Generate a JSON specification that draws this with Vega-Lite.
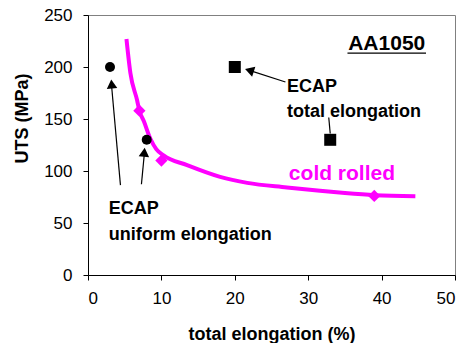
{
  "$schema": "https://vega.github.io/schema/vega-lite/v6.json",
  "autosize": "none",
  "width": 367,
  "height": 260,
  "padding": {"left": 88, "top": 15, "right": 8, "bottom": 68},
  "background": "white",
  "config": {
    "font": "Liberation Sans",
    "view": {"stroke": "#808080", "strokeWidth": 1},
    "axis": {
      "grid": false,
      "domainColor": "black",
      "tickColor": "black",
      "tickSize": 5,
      "labelFontSize": 17,
      "labelColor": "black",
      "labelFont": "Liberation Sans",
      "titleFont": "Liberation Sans",
      "titleFontSize": 18,
      "titleFontWeight": "bold",
      "titleColor": "black"
    }
  },
  "datasets": {
    "curve": [
      {"x": 5.24, "y": 227}, {"x": 5.78, "y": 194}, {"x": 6.69, "y": 168}, {"x": 7.0, "y": 158},
      {"x": 7.6, "y": 148}, {"x": 8.5, "y": 131}, {"x": 9.3, "y": 121}, {"x": 10.3, "y": 115},
      {"x": 13.5, "y": 105.6}, {"x": 18.0, "y": 94.3}, {"x": 21.7, "y": 88.6},
      {"x": 27.1, "y": 84.2}, {"x": 31.6, "y": 80.9}, {"x": 35.0, "y": 78.8},
      {"x": 39.1, "y": 76.8}, {"x": 44.6, "y": 75.8}
    ],
    "cold": [{"x": 7, "y": 158}, {"x": 10, "y": 110}, {"x": 39, "y": 76}],
    "uniform": [{"x": 3, "y": 200}, {"x": 8, "y": 130}],
    "total": [{"x": 20, "y": 200}, {"x": 33, "y": 130}],
    "shafts": [
      {"x": 4.42, "y": 86.4, "x2": 3.2, "y2": 183},
      {"x": 7.28, "y": 87.3, "x2": 7.68, "y2": 117},
      {"x": 26.9, "y": 185.6, "x2": 22.2, "y2": 196.3},
      {"x": 32.8, "y": 151.4, "x2": 33.0, "y2": 136},
      {"x": 35.35, "y": 213.3, "x2": 46.05, "y2": 213.3}
    ],
    "headsUp": [{"x": 3.22, "y": 183.7, "a": -5}, {"x": 7.67, "y": 118, "a": 5}],
    "headsLeft": [{"x": 21.99, "y": 196.8}],
    "labels": [
      {"x": 2.83, "y": 58.5, "t": "ECAP"},
      {"x": 2.83, "y": 33.6, "t": "uniform elongation"},
      {"x": 27.1, "y": 176, "t": "ECAP"},
      {"x": 27.1, "y": 152, "t": "total elongation"}
    ],
    "title": [{"x": 40.7, "y": 216, "t": "AA1050"}],
    "cr": [{"x": 34.6, "y": 91, "t": "cold rolled"}]
  },
  "layer": [
    {
      "data": {"name": "curve"},
      "mark": {"type": "line", "color": "#FF00FF", "strokeWidth": 4, "interpolate": "monotone"},
      "encoding": {
        "x": {"field": "x", "type": "quantitative",
              "scale": {"domain": [0, 50], "nice": false},
              "axis": {"values": [0, 10, 20, 30, 40, 50], "title": "total elongation (%)", "labelPadding": 10, "titlePadding": 19}},
        "y": {"field": "y", "type": "quantitative",
              "scale": {"domain": [0, 250], "nice": false},
              "axis": {"values": [0, 50, 100, 150, 200, 250], "title": "UTS (MPa)", "labelPadding": 11,
                       "titleX": -66, "titleY": 103, "titleAlign": "center", "titleBaseline": "middle", "titleAngle": -90}}
      }
    },
    {
      "data": {"name": "cold"},
      "mark": {"type": "point", "shape": "diamond", "filled": true, "color": "#FF00FF", "size": 150, "opacity": 1},
      "encoding": {"x": {"field": "x", "type": "quantitative"}, "y": {"field": "y", "type": "quantitative"}}
    },
    {
      "data": {"name": "uniform"},
      "mark": {"type": "point", "shape": "circle", "filled": true, "color": "black", "size": 100, "opacity": 1},
      "encoding": {"x": {"field": "x", "type": "quantitative"}, "y": {"field": "y", "type": "quantitative"}}
    },
    {
      "data": {"name": "total"},
      "mark": {"type": "point", "shape": "square", "filled": true, "color": "black", "size": 144, "opacity": 1},
      "encoding": {"x": {"field": "x", "type": "quantitative"}, "y": {"field": "y", "type": "quantitative"}}
    },
    {
      "data": {"name": "shafts"},
      "mark": {"type": "rule", "color": "black", "strokeWidth": 1.2},
      "encoding": {
        "x": {"field": "x", "type": "quantitative"}, "y": {"field": "y", "type": "quantitative"},
        "x2": {"field": "x2"}, "y2": {"field": "y2"}
      }
    },
    {
      "data": {"name": "headsUp"},
      "mark": {"type": "point", "shape": "triangle-up", "filled": true, "color": "black", "size": 110, "opacity": 1},
      "encoding": {"x": {"field": "x", "type": "quantitative"}, "y": {"field": "y", "type": "quantitative"},
                   "angle": {"field": "a", "type": "quantitative", "scale": null}}
    },
    {
      "data": {"name": "headsLeft"},
      "mark": {"type": "point", "shape": "triangle-up", "filled": true, "color": "black", "size": 110, "opacity": 1, "angle": 288},
      "encoding": {"x": {"field": "x", "type": "quantitative"}, "y": {"field": "y", "type": "quantitative"}}
    },
    {
      "data": {"name": "labels"},
      "mark": {"type": "text", "align": "left", "baseline": "alphabetic", "fontSize": 18, "fontWeight": "bold", "color": "black", "font": "Liberation Sans"},
      "encoding": {"x": {"field": "x", "type": "quantitative"}, "y": {"field": "y", "type": "quantitative"}, "text": {"field": "t"}}
    },
    {
      "data": {"name": "title"},
      "mark": {"type": "text", "align": "center", "baseline": "alphabetic", "fontSize": 21, "fontWeight": "bold", "color": "black", "font": "Liberation Sans"},
      "encoding": {"x": {"field": "x", "type": "quantitative"}, "y": {"field": "y", "type": "quantitative"}, "text": {"field": "t"}}
    },
    {
      "data": {"name": "cr"},
      "mark": {"type": "text", "align": "center", "baseline": "alphabetic", "fontSize": 21, "fontWeight": "bold", "color": "#FF00FF", "font": "Liberation Sans"},
      "encoding": {"x": {"field": "x", "type": "quantitative"}, "y": {"field": "y", "type": "quantitative"}, "text": {"field": "t"}}
    }
  ]
}
